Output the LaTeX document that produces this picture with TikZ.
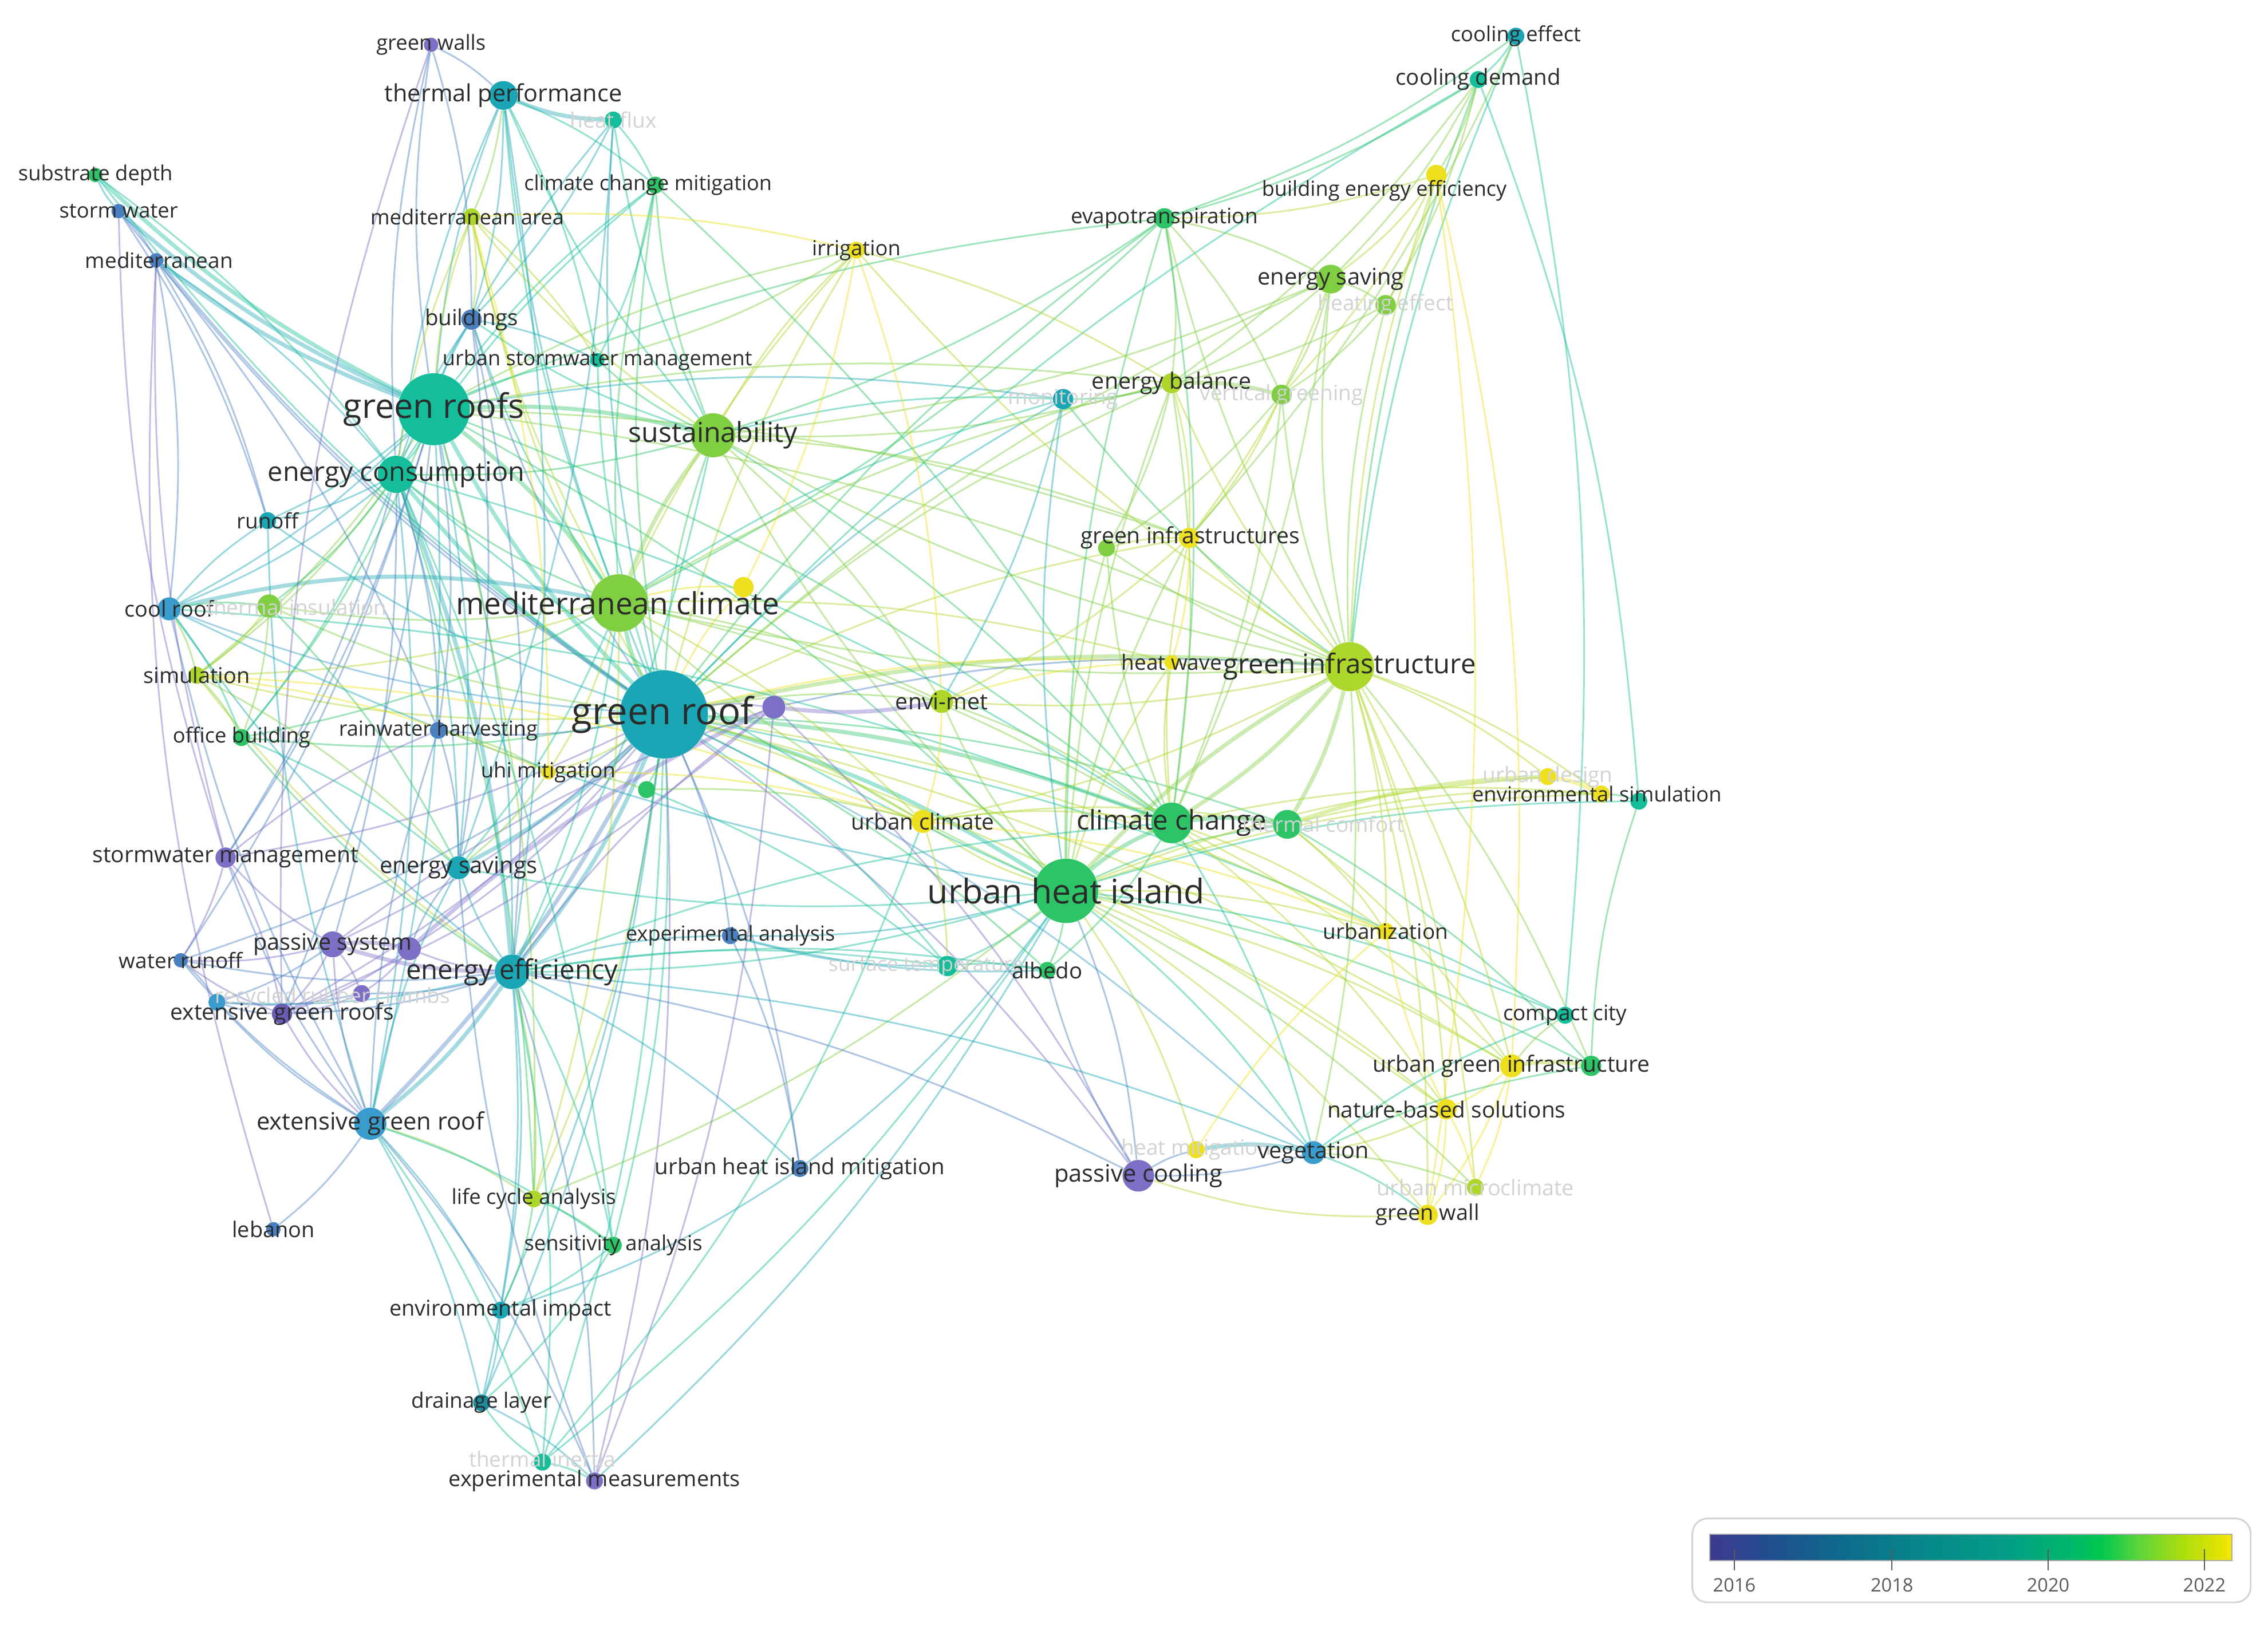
\documentclass[tikz,border=0pt]{standalone}
\usepackage{fontspec}
\setmainfont{Open Sans}
\newcommand{\kwfont}[1]{\fontsize{#1}{#1}\selectfont}
\definecolor{yr16}{HTML}{7B6FC6}
\definecolor{yr16d}{HTML}{6A5CB4}
\definecolor{yr17}{HTML}{4A80C0}
\definecolor{yr17l}{HTML}{3A9CCC}
\definecolor{yr18}{HTML}{1AA6B4}
\definecolor{yr18d}{HTML}{1A8A9C}
\definecolor{yr19}{HTML}{14BE9A}
\definecolor{yr20}{HTML}{2CC466}
\definecolor{yr21}{HTML}{80CE42}
\definecolor{yr21l}{HTML}{ADD62A}
\definecolor{yr22}{HTML}{EEE01E}
\definecolor{lbltext}{HTML}{2B2B2B}
\definecolor{faintgray}{HTML}{D2D2D2}
\definecolor{legendgray}{HTML}{5A5A5A}
\definecolor{boxgray}{HTML}{D4D4D4}
\definecolor{bar0}{HTML}{3E3A8E}
\definecolor{bar1}{HTML}{1F4F8F}
\definecolor{bar2}{HTML}{0E6A8C}
\definecolor{bar3}{HTML}{06868A}
\definecolor{bar4}{HTML}{039A88}
\definecolor{bar5}{HTML}{00B46E}
\definecolor{bar6}{HTML}{00C84E}
\definecolor{bar7}{HTML}{5CD43A}
\definecolor{bar8}{HTML}{A6DC0E}
\definecolor{bar9}{HTML}{F6E600}
\pgfdeclarehorizontalshading{yearbar}{100bp}{color(0bp)=(bar0); color(25bp)=(bar0); color(31bp)=(bar1); color(37.5bp)=(bar2); color(45bp)=(bar3); color(52.5bp)=(bar4); color(59bp)=(bar5); color(62.5bp)=(bar6); color(66bp)=(bar7); color(70bp)=(bar8); color(75bp)=(bar9); color(100bp)=(bar9)}
\pgfdeclarelayer{edges}
\pgfdeclarelayer{labels}
\pgfsetlayers{edges,main,labels}

\begin{document}
\begin{tikzpicture}[x=0.03cm, y=-0.03cm,
    kw/.style={circle, inner sep=0pt, draw=none},
    lbl/.style={inner sep=0pt, text=lbltext, font=\kwfont{12.5}},
    faint/.style={lbl, text=faintgray},
    link/.style={line width=1pt, opacity=0.45},
    strong/.style={line width=2.4pt, opacity=0.4},
    yearlbl/.style={inner sep=0pt, text=legendgray, font=\kwfont{11}}]

    \useasboundingbox (0,0) rectangle (1568,1125);

    \node[kw, fill=yr16, minimum size=8.5pt] (gwalls) at (298,31) {};
    \node[kw, fill=yr18, minimum size=17pt] (tperf) at (348,66) {};
    \node[kw, fill=yr19, minimum size=10pt] (hflux) at (424,83) {};
    \node[kw, fill=yr20, minimum size=10pt] (ccmit) at (453,128) {};
    \node[kw, fill=yr21l, minimum size=10pt] (medarea) at (326,150) {};
    \node[kw, fill=yr20, minimum size=8.5pt] (subdep) at (66,121) {};
    \node[kw, fill=yr17, minimum size=8.5pt] (stwater) at (82,146) {};
    \node[kw, fill=yr17, minimum size=8.5pt] (med) at (108,180) {};
    \node[kw, fill=yr22, minimum size=10pt] (irrig) at (592,173) {};
    \node[kw, fill=yr17, minimum size=12pt] (bldg) at (326,221) {};
    \node[kw, fill=yr19, minimum size=8.5pt] (usm) at (413,249) {};
    \node[kw, fill=yr19, minimum size=42.5pt] (grfs) at (300,283) {};
    \node[kw, fill=yr21, minimum size=26pt] (sus) at (493,301) {};
    \node[kw, fill=yr19, minimum size=22pt] (econs) at (274,328) {};
    \node[kw, fill=yr18, minimum size=10pt] (runoff) at (185,360) {};
    \node[kw, fill=yr17l, minimum size=13.6pt] (croof) at (117,421) {};
    \node[kw, fill=yr21, minimum size=13.6pt] (tins) at (186,419) {};
    \node[kw, fill=yr21, minimum size=34pt] (medcl) at (428,417) {};
    \node[kw, fill=yr22, minimum size=12pt] (y1) at (514,406) {};
    \node[kw, fill=yr21l, minimum size=10pt] (simu) at (136,467) {};
    \node[kw, fill=yr20, minimum size=10pt] (offb) at (167,510) {};
    \node[kw, fill=yr17, minimum size=10pt] (rwh) at (303,505) {};
    \node[kw, fill=yr18, minimum size=52pt] (grf) at (459,494) {};
    \node[kw, fill=yr16, minimum size=13.6pt] (p1) at (535,489) {};
    \node[kw, fill=yr22, minimum size=8.5pt] (uhim) at (379,534) {};
    \node[kw, fill=yr20, minimum size=10pt] (g1) at (447,546) {};
    \node[kw, fill=yr21l, minimum size=13.6pt] (envi) at (651,485) {};
    \node[kw, fill=yr22, minimum size=8.5pt] (hwave) at (810,458) {};
    \node[kw, fill=yr21l, minimum size=29pt] (ginf) at (933,461) {};
    \node[kw, fill=yr22, minimum size=13.6pt] (uclim) at (638,568) {};
    \node[kw, fill=yr20, minimum size=24pt] (cchange) at (810,569) {};
    \node[kw, fill=yr20, minimum size=17pt] (tcomf) at (890,570) {};
    \node[kw, fill=yr22, minimum size=10pt] (udes) at (1070,537) {};
    \node[kw, fill=yr22, minimum size=10pt] (envsim) at (1107,549) {};
    \node[kw, fill=yr19, minimum size=10pt] (t1) at (1133,554) {};
    \node[kw, fill=yr16, minimum size=12pt] (swm) at (156,593) {};
    \node[kw, fill=yr18, minimum size=13.6pt] (esav) at (317,600) {};
    \node[kw, fill=yr20, minimum size=38pt] (uhi) at (737,616) {};
    \node[kw, fill=yr17, minimum size=10pt] (expan) at (505,647) {};
    \node[kw, fill=yr19, minimum size=12pt] (stemp) at (655,668) {};
    \node[kw, fill=yr20, minimum size=10pt] (albedo) at (724,671) {};
    \node[kw, fill=yr22, minimum size=10pt] (urbz) at (958,644) {};
    \node[kw, fill=yr16, minimum size=15.3pt] (psys) at (230,653) {};
    \node[kw, fill=yr16, minimum size=13.6pt] (p2) at (283,656) {};
    \node[kw, fill=yr17, minimum size=8.5pt] (wrun) at (125,664) {};
    \node[kw, fill=yr17l, minimum size=10pt] (b1) at (150,693) {};
    \node[kw, fill=yr16, minimum size=10pt] (rrc) at (250,687) {};
    \node[kw, fill=yr16d, minimum size=12pt] (egrs) at (195,701) {};
    \node[kw, fill=yr18, minimum size=20.4pt] (eeff) at (354,672) {};
    \node[kw, fill=yr17l, minimum size=19pt] (egr) at (256,777) {};
    \node[kw, fill=yr17, minimum size=10pt] (uhimit) at (553,808) {};
    \node[kw, fill=yr16, minimum size=18.7pt] (pcool) at (787,813) {};
    \node[kw, fill=yr22, minimum size=10pt] (hmit) at (827,795) {};
    \node[kw, fill=yr17l, minimum size=13.6pt] (veg) at (908,797) {};
    \node[kw, fill=yr22, minimum size=12pt] (nbs) at (1000,767) {};
    \node[kw, fill=yr22, minimum size=13.6pt] (ugi) at (1045,737) {};
    \node[kw, fill=yr20, minimum size=12pt] (g2) at (1100,737) {};
    \node[kw, fill=yr19, minimum size=10pt] (ccity) at (1082,702) {};
    \node[kw, fill=yr21l, minimum size=10pt] (umicro) at (1020,821) {};
    \node[kw, fill=yr22, minimum size=12pt] (gwall) at (987,840) {};
    \node[kw, fill=yr21l, minimum size=10pt] (lca) at (369,829) {};
    \node[kw, fill=yr20, minimum size=10pt] (sens) at (424,861) {};
    \node[kw, fill=yr17, minimum size=8.5pt] (leb) at (189,850) {};
    \node[kw, fill=yr18, minimum size=10pt] (envimp) at (346,906) {};
    \node[kw, fill=yr18d, minimum size=10pt] (drain) at (333,970) {};
    \node[kw, fill=yr19, minimum size=10pt] (tinert) at (375,1011) {};
    \node[kw, fill=yr16, minimum size=10pt] (expm) at (411,1024) {};
    \node[kw, fill=yr18, minimum size=10pt] (coole) at (1048,25) {};
    \node[kw, fill=yr19, minimum size=10pt] (coold) at (1022,55) {};
    \node[kw, fill=yr22, minimum size=12pt] (bee) at (993,121) {};
    \node[kw, fill=yr20, minimum size=12pt] (evap) at (805,151) {};
    \node[kw, fill=yr21, minimum size=17pt] (esave) at (920,193) {};
    \node[kw, fill=yr21, minimum size=12pt] (heff) at (958,211) {};
    \node[kw, fill=yr18, minimum size=12pt] (monit) at (735,276) {};
    \node[kw, fill=yr21l, minimum size=12pt] (ebal) at (810,265) {};
    \node[kw, fill=yr21, minimum size=12pt] (vgreen) at (886,273) {};
    \node[kw, fill=yr21, minimum size=10pt] (g3) at (765,379) {};
    \node[kw, fill=yr22, minimum size=12pt] (ginfs) at (822,372) {};

    \begin{pgfonlayer}{edges}
    \draw[strong, yr19] (grf) to[bend left=8] (grfs);
    \draw[strong, yr19] (grf) to[bend left=8] (econs);
    \draw[strong, yr20] (grf) to[bend left=8] (medcl);
    \draw[link, yr20] (grf) to[bend left=8] (sus);
    \draw[link, yr18] (grf) to[bend left=8] (tperf);
    \draw[link, yr17] (grf) to[bend left=8] (bldg);
    \draw[link, yr20] (grf) to[bend left=8] (ccmit);
    \draw[link, yr18] (grf) to[bend left=8] (runoff);
    \draw[link, yr17l] (grf) to[bend left=8] (croof);
    \draw[link, yr21l] (grf) to[bend left=8] (simu);
    \draw[link, yr20] (grf) to[bend left=8] (offb);
    \draw[link, yr17] (grf) to[bend left=8] (rwh);
    \draw[link, yr21l] (grf) to[bend left=8] (uhim);
    \draw[link, yr16] (grf) to[bend left=8] (swm);
    \draw[strong, yr18] (grf) to[bend left=8] (esav);
    \draw[link, yr16] (grf) to[bend left=8] (psys);
    \draw[link, yr16] (grf) to[bend left=8] (p2);
    \draw[link, yr17] (grf) to[bend left=8] (wrun);
    \draw[link, yr16] (grf) to[bend left=8] (egrs);
    \draw[strong, yr18] (grf) to[bend left=8] (eeff);
    \draw[strong, yr17] (grf) to[bend left=8] (egr);
    \draw[strong, yr19] (grf) to[bend left=8] (uhi);
    \draw[strong, yr20] (grf) to[bend left=8] (cchange);
    \draw[link, yr21l] (grf) to[bend left=8] (uclim);
    \draw[link, yr21] (grf) to[bend left=8] (envi);
    \draw[link, yr20] (grf) to[bend left=8] (albedo);
    \draw[link, yr17] (grf) to[bend left=8] (expan);
    \draw[link, yr17] (grf) to[bend left=8] (uhimit);
    \draw[link, yr21l] (grf) to[bend left=8] (lca);
    \draw[link, yr19] (grf) to[bend left=8] (sens);
    \draw[link, yr18] (grf) to[bend left=8] (envimp);
    \draw[link, yr18] (grf) to[bend left=8] (drain);
    \draw[link, yr19] (grf) to[bend left=8] (tinert);
    \draw[link, yr16] (grf) to[bend left=8] (expm);
    \draw[link, yr16] (grf) to[bend left=8] (pcool);
    \draw[link, yr17l] (grf) to[bend left=8] (veg);
    \draw[strong, yr21] (grf) to[bend left=8] (ginf);
    \draw[link, yr20] (grf) to[bend left=8] (evap);
    \draw[link, yr21] (grf) to[bend left=8] (ebal);
    \draw[link, yr18] (grf) to[bend left=8] (monit);
    \draw[link, yr21l] (grf) to[bend left=8] (irrig);
    \draw[link, yr19] (grf) to[bend left=8] (subdep);
    \draw[link, yr17] (grf) to[bend left=8] (med);
    \draw[link, yr17] (grf) to[bend left=8] (stwater);
    \draw[link, yr19] (grf) to[bend left=8] (usm);
    \draw[link, yr18] (grf) to[bend left=8] (hflux);
    \draw[link, yr21] (grf) to[bend left=8] (esave);
    \draw[link, yr16] (grf) to[bend left=8] (p1);
    \draw[link, yr22] (grf) to[bend left=8] (y1);
    \draw[link, yr20] (grf) to[bend left=8] (g1);
    \draw[link, yr19] (grf) to[bend left=8] (stemp);
    \draw[link, yr21] (grf) to[bend left=8] (tins);
    \draw[link, yr21l] (grf) to[bend left=8] (medarea);
    \draw[link, yr19] (grf) to[bend left=8] (ccity);
    \draw[link, yr20] (grf) to[bend left=8] (tcomf);
    \draw[link, yr19] (grf) to[bend left=8] (coold);
    \draw[link, yr21l] (grf) to[bend left=8] (ginfs);
    \draw[link, yr22] (grf) to[bend left=8] (hwave);
    \draw[link, yr21l] (grf) to[bend left=8] (nbs);
    \draw[link, yr21l] (grf) to[bend left=8] (ugi);
    \draw[link, yr21l] (grf) to[bend left=8] (urbz);

    \draw[strong, yr19] (grfs) to[bend left=8] (subdep);
    \draw[strong, yr18] (grfs) to[bend left=8] (stwater);
    \draw[strong, yr18] (grfs) to[bend left=8] (med);
    \draw[link, yr17] (grfs) to[bend left=8] (gwalls);
    \draw[link, yr18] (grfs) to[bend left=8] (tperf);
    \draw[link, yr18] (grfs) to[bend left=8] (bldg);
    \draw[link, yr19] (grfs) to[bend left=8] (usm);
    \draw[strong, yr20] (grfs) to[bend left=8] (sus);
    \draw[link, yr19] (grfs) to[bend left=8] (econs);
    \draw[link, yr18] (grfs) to[bend left=8] (runoff);
    \draw[link, yr18] (grfs) to[bend left=8] (croof);
    \draw[strong, yr20] (grfs) to[bend left=8] (medcl);
    \draw[link, yr20] (grfs) to[bend left=8] (uhi);
    \draw[link, yr18] (grfs) to[bend left=8] (eeff);
    \draw[link, yr18] (grfs) to[bend left=8] (esav);
    \draw[link, yr18] (grfs) to[bend left=8] (egr);
    \draw[link, yr21] (grfs) to[bend left=8] (ginf);
    \draw[link, yr20] (grfs) to[bend left=8] (evap);
    \draw[link, yr21] (grfs) to[bend left=8] (irrig);
    \draw[link, yr18] (grfs) to[bend left=8] (monit);
    \draw[link, yr21] (grfs) to[bend left=8] (ebal);
    \draw[link, yr20] (grfs) to[bend left=8] (cchange);
    \draw[link, yr17] (grfs) to[bend left=8] (swm);
    \draw[link, yr19] (grfs) to[bend left=8] (ccmit);
    \draw[link, yr21l] (grfs) to[bend left=8] (medarea);
    \draw[link, yr20] (grfs) to[bend left=8] (offb);
    \draw[link, yr21] (grfs) to[bend left=8] (simu);
    \draw[link, yr21] (grfs) to[bend left=8] (lca);
    \draw[link, yr17] (grfs) to[bend left=8] (wrun);
    \draw[link, yr17] (grfs) to[bend left=8] (egrs);
    \draw[link, yr17] (grfs) to[bend left=8] (rwh);
    \draw[link, yr21] (grfs) to[bend left=8] (ginfs);

    \draw[strong, yr21] (uhi) to[bend left=8] (ginf);
    \draw[strong, yr20] (uhi) to[bend left=8] (cchange);
    \draw[link, yr21] (uhi) to[bend left=8] (medcl);
    \draw[link, yr21] (uhi) to[bend left=8] (sus);
    \draw[link, yr21] (uhi) to[bend left=8] (envi);
    \draw[link, yr21l] (uhi) to[bend left=8] (uclim);
    \draw[link, yr21l] (uhi) to[bend left=8] (hwave);
    \draw[link, yr20] (uhi) to[bend left=8] (albedo);
    \draw[link, yr19] (uhi) to[bend left=8] (stemp);
    \draw[link, yr21l] (uhi) to[bend left=8] (urbz);
    \draw[link, yr19] (uhi) to[bend left=8] (veg);
    \draw[link, yr21l] (uhi) to[bend left=8] (ugi);
    \draw[link, yr21l] (uhi) to[bend left=8] (nbs);
    \draw[link, yr19] (uhi) to[bend left=8] (ccity);
    \draw[link, yr21l] (uhi) to[bend left=8] (envsim);
    \draw[link, yr21] (uhi) to[bend left=8] (ebal);
    \draw[link, yr20] (uhi) to[bend left=8] (evap);
    \draw[link, yr21] (uhi) to[bend left=8] (ginfs);
    \draw[link, yr17] (uhi) to[bend left=8] (pcool);
    \draw[link, yr20] (uhi) to[bend left=8] (tcomf);
    \draw[link, yr18] (uhi) to[bend left=8] (croof);
    \draw[link, yr19] (uhi) to[bend left=8] (econs);
    \draw[link, yr19] (uhi) to[bend left=8] (eeff);
    \draw[link, yr21] (uhi) to[bend left=8] (umicro);
    \draw[link, yr21l] (uhi) to[bend left=8] (gwall);
    \draw[link, yr19] (uhi) to[bend left=8] (tinert);
    \draw[link, yr18] (uhi) to[bend left=8] (expm);
    \draw[link, yr19] (uhi) to[bend left=8] (esav);
    \draw[link, yr21] (uhi) to[bend left=8] (g3);
    \draw[link, yr18] (uhi) to[bend left=8] (monit);
    \draw[link, yr21l] (uhi) to[bend left=8] (hmit);
    \draw[link, yr21l] (uhi) to[bend left=8] (udes);
    \draw[link, yr20] (uhi) to[bend left=8] (g2);
    \draw[link, yr18] (uhi) to[bend left=8] (expan);
    \draw[link, yr18] (uhi) to[bend left=8] (uhimit);
    \draw[link, yr21] (uhi) to[bend left=8] (lca);
    \draw[link, yr19] (uhi) to[bend left=8] (t1);

    \draw[link, yr20] (ginf) to[bend left=8] (coold);
    \draw[link, yr19] (ginf) to[bend left=8] (coole);
    \draw[link, yr21l] (ginf) to[bend left=8] (bee);
    \draw[link, yr21] (ginf) to[bend left=8] (evap);
    \draw[link, yr21] (ginf) to[bend left=8] (esave);
    \draw[link, yr21] (ginf) to[bend left=8] (heff);
    \draw[link, yr21] (ginf) to[bend left=8] (vgreen);
    \draw[link, yr21l] (ginf) to[bend left=8] (ebal);
    \draw[link, yr21l] (ginf) to[bend left=8] (ginfs);
    \draw[link, yr21l] (ginf) to[bend left=8] (hwave);
    \draw[strong, yr21] (ginf) to[bend left=8] (cchange);
    \draw[link, yr21l] (ginf) to[bend left=8] (urbz);
    \draw[link, yr21l] (ginf) to[bend left=8] (ugi);
    \draw[link, yr21l] (ginf) to[bend left=8] (nbs);
    \draw[link, yr21l] (ginf) to[bend left=8] (gwall);
    \draw[link, yr21l] (ginf) to[bend left=8] (umicro);
    \draw[link, yr21] (ginf) to[bend left=8] (veg);
    \draw[strong, yr21] (ginf) to[bend left=8] (tcomf);
    \draw[link, yr21l] (ginf) to[bend left=8] (udes);
    \draw[link, yr21l] (ginf) to[bend left=8] (envsim);
    \draw[link, yr21l] (ginf) to[bend left=8] (envi);
    \draw[link, yr21] (ginf) to[bend left=8] (sus);
    \draw[link, yr21] (ginf) to[bend left=8] (medcl);
    \draw[link, yr21l] (ginf) to[bend left=8] (uclim);
    \draw[link, yr21] (ginf) to[bend left=8] (g3);
    \draw[link, yr21l] (ginf) to[bend left=8] (irrig);
    \draw[link, yr20] (ginf) to[bend left=8] (monit);
    \draw[link, yr21] (ginf) to[bend left=8] (g2);

    \draw[link, yr19] (coole) to[bend left=8] (coold);
    \draw[link, yr20] (coole) to[bend left=8] (evap);
    \draw[link, yr20] (coold) to[bend left=8] (evap);
    \draw[link, yr21] (coold) to[bend left=8] (bee);
    \draw[link, yr21] (coold) to[bend left=8] (esave);
    \draw[link, yr21] (coold) to[bend left=8] (heff);
    \draw[link, yr21] (coold) to[bend left=8] (ebal);
    \draw[link, yr21l] (bee) to[bend left=8] (esave);
    \draw[link, yr21l] (bee) to[bend left=8] (heff);
    \draw[link, yr21l] (bee) to[bend left=8] (evap);
    \draw[link, yr21l] (bee) to[bend left=8] (vgreen);
    \draw[link, yr21] (evap) to[bend left=8] (esave);
    \draw[link, yr21] (evap) to[bend left=8] (ebal);
    \draw[link, yr20] (evap) to[bend left=8] (sus);
    \draw[link, yr20] (evap) to[bend left=8] (medcl);
    \draw[link, yr20] (evap) to[bend left=8] (cchange);
    \draw[link, yr21] (evap) to[bend left=8] (vgreen);
    \draw[link, yr21] (esave) to[bend left=8] (heff);
    \draw[link, yr21] (esave) to[bend left=8] (ebal);
    \draw[link, yr21] (esave) to[bend left=8] (vgreen);
    \draw[link, yr21] (esave) to[bend left=8] (sus);
    \draw[link, yr21l] (esave) to[bend left=8] (ginfs);
    \draw[link, yr21] (esave) to[bend left=8] (cchange);
    \draw[link, yr21] (heff) to[bend left=8] (vgreen);
    \draw[link, yr21] (heff) to[bend left=8] (ebal);
    \draw[strong, yr21] (ebal) to[bend left=8] (vgreen);
    \draw[link, yr20] (ebal) to[bend left=8] (monit);
    \draw[link, yr21l] (ebal) to[bend left=8] (ginfs);
    \draw[link, yr21] (ebal) to[bend left=8] (g3);
    \draw[link, yr21] (ebal) to[bend left=8] (cchange);
    \draw[link, yr21] (ebal) to[bend left=8] (sus);
    \draw[link, yr21l] (vgreen) to[bend left=8] (ginfs);
    \draw[link, yr21] (vgreen) to[bend left=8] (cchange);
    \draw[link, yr21] (vgreen) to[bend left=8] (g3);
    \draw[link, yr21] (coole) to[bend left=8] (ginfs);
    \draw[link, yr19] (coole) to[bend left=8] (ccity);
    \draw[link, yr19] (coold) to[bend left=8] (t1);
    \draw[link, yr22] (bee) to[bend left=8] (ugi);
    \draw[link, yr22] (bee) to[bend left=8] (gwall);

    \draw[strong, yr21] (medcl) to[bend left=8] (sus);
    \draw[link, yr20] (medcl) to[bend left=8] (econs);
    \draw[link, yr19] (medcl) to[bend left=8] (tperf);
    \draw[link, yr19] (medcl) to[bend left=8] (bldg);
    \draw[link, yr20] (medcl) to[bend left=8] (ccmit);
    \draw[link, yr21l] (medcl) to[bend left=8] (medarea);
    \draw[strong, yr18] (medcl) to[bend right=12] (croof);
    \draw[link, yr21] (medcl) to[bend left=8] (tins);
    \draw[link, yr21l] (medcl) to[bend left=8] (simu);
    \draw[link, yr20] (medcl) to[bend left=8] (offb);
    \draw[link, yr21l] (medcl) to[bend left=8] (irrig);
    \draw[link, yr21] (medcl) to[bend left=8] (envi);
    \draw[link, yr21] (medcl) to[bend left=8] (cchange);
    \draw[link, yr21l] (medcl) to[bend left=8] (uclim);
    \draw[link, yr19] (medcl) to[bend left=8] (eeff);
    \draw[link, yr19] (medcl) to[bend left=8] (esav);
    \draw[link, yr22] (medcl) to[bend left=8] (y1);
    \draw[link, yr21] (medcl) to[bend left=8] (ebal);
    \draw[link, yr21l] (medcl) to[bend left=8] (hwave);
    \draw[link, yr21l] (medcl) to[bend left=8] (uhim);
    \draw[link, yr21l] (medcl) to[bend left=8] (lca);
    \draw[link, yr19] (medcl) to[bend left=8] (monit);

    \draw[link, yr20] (sus) to[bend left=8] (econs);
    \draw[link, yr19] (sus) to[bend left=8] (tperf);
    \draw[link, yr20] (sus) to[bend left=8] (ccmit);
    \draw[link, yr19] (sus) to[bend left=8] (bldg);
    \draw[link, yr20] (sus) to[bend left=8] (usm);
    \draw[link, yr21l] (sus) to[bend left=8] (irrig);
    \draw[link, yr21l] (sus) to[bend left=8] (medarea);
    \draw[link, yr20] (sus) to[bend left=8] (cchange);
    \draw[link, yr21] (sus) to[bend left=8] (envi);
    \draw[link, yr19] (sus) to[bend left=8] (monit);
    \draw[link, yr19] (sus) to[bend left=8] (eeff);
    \draw[link, yr19] (sus) to[bend left=8] (hflux);
    \draw[link, yr21] (sus) to[bend left=8] (ginfs);

    \draw[link, yr18] (econs) to[bend left=8] (tperf);
    \draw[link, yr18] (econs) to[bend left=8] (bldg);
    \draw[link, yr18] (econs) to[bend left=8] (runoff);
    \draw[link, yr18] (econs) to[bend left=8] (croof);
    \draw[link, yr21] (econs) to[bend left=8] (simu);
    \draw[link, yr19] (econs) to[bend left=8] (offb);
    \draw[strong, yr18] (econs) to[bend left=8] (eeff);
    \draw[link, yr18] (econs) to[bend left=8] (esav);
    \draw[link, yr18] (econs) to[bend left=8] (egr);
    \draw[link, yr20] (econs) to[bend left=8] (tins);
    \draw[link, yr19] (econs) to[bend left=8] (cchange);
    \draw[link, yr18] (econs) to[bend left=8] (hflux);
    \draw[link, yr19] (econs) to[bend left=8] (ccmit);
    \draw[link, yr20] (econs) to[bend left=8] (lca);
    \draw[link, yr19] (econs) to[bend left=8] (sens);
    \draw[link, yr17] (econs) to[bend left=8] (rwh);
    \draw[link, yr17] (econs) to[bend left=8] (gwalls);
    \draw[link, yr21l] (econs) to[bend left=8] (medarea);
    \draw[link, yr17] (econs) to[bend left=8] (swm);
    \draw[link, yr17] (econs) to[bend left=8] (psys);

    \draw[strong, yr16] (eeff) to[bend left=8] (psys);
    \draw[link, yr16] (eeff) to[bend left=8] (p2);
    \draw[link, yr17] (eeff) to[bend left=8] (egrs);
    \draw[link, yr17] (eeff) to[bend left=8] (rrc);
    \draw[strong, yr18] (eeff) to[bend left=8] (egr);
    \draw[link, yr21] (eeff) to[bend left=8] (lca);
    \draw[link, yr19] (eeff) to[bend left=8] (sens);
    \draw[link, yr18] (eeff) to[bend left=8] (envimp);
    \draw[link, yr18] (eeff) to[bend left=8] (drain);
    \draw[link, yr19] (eeff) to[bend left=8] (tinert);
    \draw[link, yr17] (eeff) to[bend left=8] (expm);
    \draw[link, yr18] (eeff) to[bend left=8] (expan);
    \draw[link, yr18] (eeff) to[bend left=8] (uhimit);
    \draw[link, yr17] (eeff) to[bend left=8] (pcool);
    \draw[link, yr18] (eeff) to[bend left=8] (veg);
    \draw[link, yr19] (eeff) to[bend left=8] (cchange);
    \draw[link, yr18] (eeff) to[bend left=8] (esav);
    \draw[link, yr17] (eeff) to[bend left=8] (wrun);
    \draw[link, yr18] (eeff) to[bend left=8] (b1);
    \draw[link, yr18] (eeff) to[bend left=8] (croof);
    \draw[link, yr21l] (eeff) to[bend left=8] (simu);
    \draw[link, yr20] (eeff) to[bend left=8] (offb);
    \draw[link, yr19] (eeff) to[bend left=8] (albedo);
    \draw[link, yr19] (eeff) to[bend left=8] (stemp);
    \draw[link, yr16] (eeff) to[bend left=8] (p1);

    \draw[link, yr17] (egr) to[bend left=8] (leb);
    \draw[link, yr18] (egr) to[bend left=8] (envimp);
    \draw[link, yr18] (egr) to[bend left=8] (drain);
    \draw[link, yr21] (egr) to[bend left=8] (lca);
    \draw[link, yr19] (egr) to[bend left=8] (sens);
    \draw[link, yr16] (egr) to[bend left=8] (psys);
    \draw[link, yr16] (egr) to[bend left=8] (egrs);
    \draw[link, yr17] (egr) to[bend left=8] (b1);
    \draw[link, yr17] (egr) to[bend left=8] (wrun);
    \draw[link, yr17] (egr) to[bend left=8] (swm);
    \draw[link, yr17] (egr) to[bend left=8] (rwh);
    \draw[link, yr18] (egr) to[bend left=8] (runoff);
    \draw[link, yr17] (egr) to[bend left=8] (croof);
    \draw[link, yr18] (egr) to[bend left=8] (esav);
    \draw[link, yr19] (egr) to[bend left=8] (tinert);
    \draw[link, yr17] (egr) to[bend left=8] (expm);

    \draw[strong, yr16] (psys) to[bend left=8] (p2);
    \draw[link, yr16] (psys) to[bend left=8] (rrc);
    \draw[link, yr16] (psys) to[bend left=8] (egrs);
    \draw[link, yr16] (psys) to[bend left=8] (wrun);
    \draw[link, yr17] (psys) to[bend left=8] (b1);
    \draw[link, yr16] (psys) to[bend left=8] (swm);
    \draw[link, yr16] (psys) to[bend left=8] (p1);
    \draw[link, yr16] (p2) to[bend left=8] (rrc);
    \draw[link, yr16] (p2) to[bend left=8] (egrs);
    \draw[strong, yr16] (p2) to[bend left=8] (p1);
    \draw[link, yr17] (p2) to[bend left=8] (esav);
    \draw[link, yr16] (rrc) to[bend left=8] (egrs);
    \draw[link, yr17] (rrc) to[bend left=8] (b1);
    \draw[link, yr17] (egrs) to[bend left=8] (b1);
    \draw[link, yr16] (egrs) to[bend left=8] (wrun);
    \draw[link, yr17] (wrun) to[bend left=8] (b1);
    \draw[link, yr16] (swm) to[bend left=8] (wrun);
    \draw[link, yr16] (swm) to[bend left=8] (med);
    \draw[link, yr16] (swm) to[bend left=8] (stwater);
    \draw[link, yr16] (swm) to[bend left=8] (egrs);
    \draw[link, yr16] (swm) to[bend left=8] (rwh);
    \draw[link, yr17] (stwater) to[bend left=8] (med);
    \draw[link, yr18] (stwater) to[bend left=8] (subdep);
    \draw[link, yr17] (stwater) to[bend left=8] (runoff);
    \draw[link, yr17] (med) to[bend left=8] (runoff);
    \draw[link, yr17] (med) to[bend left=8] (croof);
    \draw[link, yr18] (med) to[bend left=8] (econs);
    \draw[link, yr17] (med) to[bend left=8] (rwh);
    \draw[link, yr16] (med) to[bend right=10] (leb);
    \draw[link, yr19] (subdep) to[bend left=8] (econs);
    \draw[link, yr17] (gwalls) to[bend left=8] (tperf);
    \draw[link, yr16] (gwalls) to[bend right=10] (egrs);
    \draw[link, yr17] (gwalls) to[bend left=8] (bldg);
    \draw[strong, yr18] (tperf) to[bend right=10] (hflux);
    \draw[link, yr19] (tperf) to[bend left=8] (ccmit);
    \draw[link, yr18] (tperf) to[bend left=8] (bldg);
    \draw[link, yr21] (tperf) to[bend left=8] (medarea);
    \draw[link, yr19] (tperf) to[bend left=8] (usm);
    \draw[link, yr18] (tperf) to[bend left=8] (eeff);
    \draw[link, yr19] (hflux) to[bend left=8] (ccmit);
    \draw[link, yr18] (hflux) to[bend left=8] (bldg);
    \draw[link, yr18] (hflux) to[bend left=8] (esav);
    \draw[link, yr19] (ccmit) to[bend left=8] (usm);
    \draw[link, yr20] (ccmit) to[bend left=8] (cchange);
    \draw[link, yr21l] (medarea) to[bend left=8] (bldg);
    \draw[link, yr21l] (medarea) to[bend left=8] (usm);
    \draw[link, yr22] (medarea) to[bend left=8] (uhim);
    \draw[link, yr22] (medarea) to[bend left=8] (irrig);
    \draw[link, yr18] (bldg) to[bend left=8] (usm);
    \draw[link, yr17] (bldg) to[bend left=8] (esav);
    \draw[link, yr17] (bldg) to[bend left=8] (eeff);
    \draw[link, yr21] (irrig) to[bend left=8] (usm);
    \draw[link, yr22] (irrig) to[bend left=8] (y1);
    \draw[link, yr21l] (irrig) to[bend left=8] (ebal);
    \draw[link, yr22] (irrig) to[bend left=8] (envi);
    \draw[link, yr20] (croof) to[bend left=8] (tins);
    \draw[link, yr21] (croof) to[bend left=8] (simu);
    \draw[link, yr19] (croof) to[bend left=8] (offb);
    \draw[link, yr18] (croof) to[bend left=8] (runoff);
    \draw[link, yr19] (croof) to[bend left=8] (cchange);
    \draw[link, yr21l] (tins) to[bend left=8] (simu);
    \draw[link, yr21] (tins) to[bend left=8] (offb);
    \draw[link, yr20] (tins) to[bend left=8] (esav);
    \draw[link, yr21] (simu) to[bend left=8] (offb);
    \draw[link, yr22] (simu) to[bend left=8] (uhim);
    \draw[link, yr22] (simu) to[bend left=8] (uclim);
    \draw[link, yr21] (simu) to[bend left=8] (esav);
    \draw[link, yr19] (offb) to[bend left=8] (esav);
    \draw[link, yr21] (rwh) to[bend left=8] (uhim);
    \draw[link, yr17] (rwh) to[bend left=8] (esav);
    \draw[link, yr21] (uhim) to[bend left=8] (g1);
    \draw[link, yr22] (uhim) to[bend left=8] (uclim);
    \draw[link, yr21] (uhim) to[bend left=8] (esav);
    \draw[link, yr19] (g1) to[bend left=8] (stemp);
    \draw[link, yr21] (g1) to[bend left=8] (uclim);
    \draw[link, yr22] (envi) to[bend left=8] (uclim);
    \draw[link, yr22] (envi) to[bend left=8] (hwave);
    \draw[link, yr21] (envi) to[bend left=8] (cchange);
    \draw[strong, yr16] (envi) to[bend left=8] (p1);
    \draw[link, yr17] (p1) to[bend left=8] (ginf);
    \draw[link, yr16] (p1) to[bend left=8] (expm);
    \draw[link, yr16] (p1) to[bend left=8] (pcool);
    \draw[link, yr16] (p1) to[bend left=8] (egrs);
    \draw[link, yr21l] (uclim) to[bend left=8] (cchange);
    \draw[link, yr21l] (uclim) to[bend left=8] (tcomf);
    \draw[link, yr21l] (uclim) to[bend left=8] (stemp);
    \draw[link, yr22] (uclim) to[bend left=8] (urbz);
    \draw[strong, yr20] (cchange) to[bend left=8] (tcomf);
    \draw[link, yr20] (cchange) to[bend left=8] (albedo);
    \draw[link, yr21l] (cchange) to[bend left=8] (urbz);
    \draw[link, yr21l] (cchange) to[bend left=8] (ugi);
    \draw[link, yr21l] (cchange) to[bend left=8] (nbs);
    \draw[link, yr19] (cchange) to[bend left=8] (veg);
    \draw[link, yr21l] (cchange) to[bend left=8] (envsim);
    \draw[link, yr21l] (cchange) to[bend left=8] (hwave);
    \draw[link, yr21l] (cchange) to[bend left=8] (ginfs);
    \draw[link, yr21] (cchange) to[bend left=8] (g3);
    \draw[strong, yr21l] (tcomf) to[bend left=8] (udes);
    \draw[link, yr21l] (tcomf) to[bend left=8] (envsim);
    \draw[link, yr21l] (tcomf) to[bend left=8] (ugi);
    \draw[link, yr20] (tcomf) to[bend left=8] (g2);
    \draw[link, yr21l] (tcomf) to[bend left=8] (urbz);
    \draw[strong, yr22] (udes) to[bend left=8] (envsim);
    \draw[link, yr20] (envsim) to[bend left=8] (t1);
    \draw[strong, yr21l] (ugi) to[bend left=8] (g2);
    \draw[link, yr22] (ugi) to[bend left=8] (nbs);
    \draw[link, yr21] (ugi) to[bend left=8] (ccity);
    \draw[link, yr22] (ugi) to[bend left=8] (gwall);
    \draw[link, yr22] (ugi) to[bend left=8] (umicro);
    \draw[link, yr22] (nbs) to[bend left=8] (gwall);
    \draw[link, yr22] (nbs) to[bend left=8] (umicro);
    \draw[link, yr21l] (nbs) to[bend left=8] (veg);
    \draw[link, yr22] (nbs) to[bend left=8] (urbz);
    \draw[link, yr20] (g2) to[bend left=8] (t1);
    \draw[strong, yr18] (veg) to[bend right=10] (hmit);
    \draw[link, yr17] (veg) to[bend left=8] (pcool);
    \draw[link, yr19] (veg) to[bend left=8] (gwall);
    \draw[link, yr21] (veg) to[bend left=8] (umicro);
    \draw[link, yr19] (veg) to[bend left=8] (ccity);
    \draw[link, yr20] (veg) to[bend left=8] (g2);
    \draw[link, yr17] (pcool) to[bend left=8] (hmit);
    \draw[link, yr21l] (pcool) to[bend right=10] (gwall);
    \draw[link, yr17] (pcool) to[bend left=8] (albedo);
    \draw[link, yr22] (hmit) to[bend left=8] (urbz);
    \draw[link, yr18] (stemp) to[bend left=8] (expan);
    \draw[link, yr19] (stemp) to[bend left=8] (albedo);
    \draw[link, yr18] (albedo) to[bend left=8] (expan);
    \draw[link, yr17] (expan) to[bend left=8] (uhimit);
    \draw[link, yr18] (uhimit) to[bend left=8] (envimp);
    \draw[link, yr20] (lca) to[bend left=8] (sens);
    \draw[link, yr20] (lca) to[bend left=8] (envimp);
    \draw[link, yr19] (sens) to[bend left=8] (envimp);
    \draw[link, yr19] (sens) to[bend left=8] (drain);
    \draw[link, yr18] (envimp) to[bend left=8] (drain);
    \draw[link, yr19] (drain) to[bend right=10] (tinert);
    \draw[link, yr19] (tinert) to[bend left=8] (expm);
    \draw[link, yr19] (tinert) to[bend right=10] (uclim);
    \draw[link, yr17] (expm) to[bend left=8] (esav);
    \draw[link, yr18] (drain) to[bend left=8] (expm);
    \draw[link, yr21l] (g3) to[bend left=8] (ginfs);
    \draw[link, yr22] (ginfs) to[bend left=8] (hwave);
    \draw[link, yr21l] (ginfs) to[bend left=8] (envi);
    \draw[link, yr18] (monit) to[bend left=8] (envi);
    \end{pgfonlayer}

    \begin{pgfonlayer}{labels}
    \node[lbl, font=\kwfont{12.3}] (gwalls-t) at (gwalls) {green walls};
    \node[lbl, font=\kwfont{14}] (tperf-t) at (tperf) {thermal performance};
    \node[faint] (hflux-t) at (hflux) {heat flux};
    \node[lbl, font=\kwfont{12.2}] (ccmit-t) at (448,128) {climate change mitigation};
    \node[lbl, font=\kwfont{12.3}] (medarea-t) at (323,150) {mediterranean area};
    \node[lbl, font=\kwfont{12.3}] (subdep-t) at (subdep) {substrate depth};
    \node[lbl, font=\kwfont{12.3}] (stwater-t) at (stwater) {storm water};
    \node[lbl] (med-t) at (110,180) {mediterranean};
    \node[lbl, font=\kwfont{12.3}] (irrig-t) at (irrig) {irrigation};
    \node[lbl, font=\kwfont{13}] (bldg-t) at (bldg) {buildings};
    \node[lbl, font=\kwfont{12.2}] (usm-t) at (usm) {urban stormwater management};
    \node[lbl, font=\kwfont{20}] (grfs-t) at (grfs) {green roofs};
    \node[lbl, font=\kwfont{16.3}] (sus-t) at (sus) {sustainability};
    \node[lbl, font=\kwfont{15.8}] (econs-t) at (econs) {energy consumption};
    \node[lbl] (runoff-t) at (runoff) {runoff};
    \node[lbl, font=\kwfont{12.8}] (croof-t) at (croof) {cool roof};
    \node[faint] (tins-t) at (205,420) {thermal insulation};
    \node[lbl, font=\kwfont{18}] (medcl-t) at (427,417) {mediterranean climate};
    \node[lbl, font=\kwfont{12.8}] (simu-t) at (simu) {simulation};
    \node[lbl, font=\kwfont{12.3}] (offb-t) at (offb) {office building};
    \node[lbl, font=\kwfont{12.2}] (rwh-t) at (rwh) {rainwater harvesting};
    \node[lbl, font=\kwfont{22}] (grf-t) at (458,494) {green roof};
    \node[lbl, font=\kwfont{12.3}] (uhim-t) at (uhim) {uhi mitigation};
    \node[lbl, font=\kwfont{13.3}] (envi-t) at (envi) {envi-met};
    \node[lbl] (hwave-t) at (hwave) {heat wave};
    \node[lbl, font=\kwfont{16}] (ginf-t) at (ginf) {green infrastructure};
    \node[lbl, font=\kwfont{13.1}] (uclim-t) at (uclim) {urban climate};
    \node[lbl, font=\kwfont{16}] (cchange-t) at (cchange) {climate change};
    \node[faint, font=\kwfont{12.5}] (tcomf-t) at (915,570) {thermal comfort};
    \node[faint] (udes-t) at (udes) {urban design};
    \node[lbl, font=\kwfont{12.3}] (envsim-t) at (1104,549) {environmental simulation};
    \node[lbl, font=\kwfont{13.2}] (swm-t) at (swm) {stormwater management};
    \node[lbl, font=\kwfont{13.5}] (esav-t) at (esav) {energy savings};
    \node[lbl, font=\kwfont{20}] (uhi-t) at (uhi) {urban heat island};
    \node[lbl, font=\kwfont{12.2}] (expan-t) at (expan) {experimental analysis};
    \node[faint, font=\kwfont{12}] (stemp-t) at (640,668) {surface temperature};
    \node[lbl, font=\kwfont{13}] (albedo-t) at (albedo) {albedo};
    \node[lbl] (urbz-t) at (urbz) {urbanization};
    \node[lbl, font=\kwfont{13.4}] (psys-t) at (psys) {passive system};
    \node[lbl] (wrun-t) at (wrun) {water runoff};
    \node[faint] (rrc-t) at (230,690) {recycled rubber crumbs};
    \node[lbl, font=\kwfont{13.2}] (egrs-t) at (195,701) {extensive green roofs};
    \node[lbl, font=\kwfont{16}] (eeff-t) at (eeff) {energy efficiency};
    \node[lbl, font=\kwfont{14.1}] (egr-t) at (egr) {extensive green roof};
    \node[lbl, font=\kwfont{13}] (uhimit-t) at (uhimit) {urban heat island mitigation};
    \node[lbl, font=\kwfont{14.1}] (pcool-t) at (pcool) {passive cooling};
    \node[faint] (hmit-t) at (hmit) {heat mitigation};
    \node[lbl, font=\kwfont{13.4}] (veg-t) at (veg) {vegetation};
    \node[lbl, font=\kwfont{13.1}] (nbs-t) at (nbs) {nature-based solutions};
    \node[lbl, font=\kwfont{13.2}] (ugi-t) at (ugi) {urban green infrastructure};
    \node[lbl] (ccity-t) at (ccity) {compact city};
    \node[faint, font=\kwfont{12.8}] (umicro-t) at (umicro) {urban microclimate};
    \node[lbl, font=\kwfont{12.8}] (gwall-t) at (gwall) {green wall};
    \node[lbl, font=\kwfont{12.3}] (lca-t) at (lca) {life cycle analysis};
    \node[lbl, font=\kwfont{12.3}] (sens-t) at (sens) {sensitivity analysis};
    \node[lbl, font=\kwfont{12.8}] (leb-t) at (leb) {lebanon};
    \node[lbl, font=\kwfont{12.8}] (envimp-t) at (envimp) {environmental impact};
    \node[lbl] (drain-t) at (drain) {drainage layer};
    \node[faint] (tinert-t) at (375,1009) {thermal inertia};
    \node[lbl, font=\kwfont{12.8}] (expm-t) at (expm) {experimental measurements};
    \node[lbl, font=\kwfont{12.3}] (coole-t) at (coole) {cooling effect};
    \node[lbl, font=\kwfont{13}] (coold-t) at (coold) {cooling demand};
    \node[lbl, font=\kwfont{12.2}] (bee-t) at (957,132) {building energy efficiency};
    \node[lbl] (evap-t) at (evap) {evapotranspiration};
    \node[lbl, font=\kwfont{13.5}] (esave-t) at (esave) {energy saving};
    \node[faint] (heff-t) at (heff) {heating effect};
    \node[faint] (monit-t) at (monit) {monitoring};
    \node[lbl, font=\kwfont{13.3}] (ebal-t) at (ebal) {energy balance};
    \node[faint] (vgreen-t) at (vgreen) {vertical greening};
    \node[lbl, font=\kwfont{13.2}] (ginfs-t) at (823,372) {green infrastructures};
    \end{pgfonlayer}

    \draw[boxgray, line width=1pt, rounded corners=9pt] (1170,1050) rectangle (1556,1108);
    \shade[shading=yearbar] (1182,1061) rectangle (1543,1079);
    \draw[legendgray!50, line width=0.6pt] (1182,1061) rectangle (1543,1079);
    \draw[legendgray, line width=0.6pt] (1199,1071) -- (1199,1086);
    \draw[legendgray, line width=0.6pt] (1308,1071) -- (1308,1086);
    \draw[legendgray, line width=0.6pt] (1416,1071) -- (1416,1086);
    \draw[legendgray, line width=0.6pt] (1524,1071) -- (1524,1086);
    \node[yearlbl] (yr16-t) at (1199,1096) {2016};
    \node[yearlbl] (yr18-t) at (1308,1096) {2018};
    \node[yearlbl] (yr20-t) at (1416,1096) {2020};
    \node[yearlbl] (yr22-t) at (1524,1096) {2022};
\end{tikzpicture}
\end{document}
